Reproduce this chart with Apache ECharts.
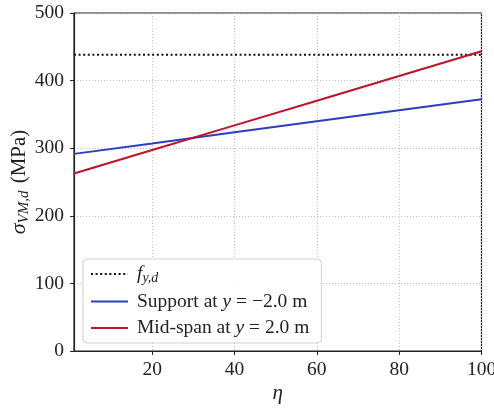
<!DOCTYPE html>
<html>
<head>
<meta charset="utf-8">
<script src="https://cdn.jsdelivr.net/npm/echarts@6/dist/echarts.min.js"></script>
<style>
  html, body { margin: 0; padding: 0; background: #fff; }
  #chart { width: 494px; height: 410px; }
</style>
</head>
<body>
<div id="chart"></div>
<script>
// Load factor eta and the von Mises design stress at two sections
const eta = [1, 20, 40, 60, 80, 100];
const supportStress = [291.6, 307.1, 323.5, 339.8, 356.2, 372.5];
const midspanStress = [262.6, 297.3, 333.8, 370.3, 406.8, 443.3];
const yieldStrength = 438.3;
const xTicks = [20, 40, 60, 80, 100];

const serif = 'Liberation Serif';
const tickFont = { fontFamily: serif, fontSize: 19.5, color: '#222' };
const gridLine = { show: true, lineStyle: { color: '#bdbdbd', type: [1, 2], width: 1 } };

const chart = echarts.init(document.getElementById('chart'));
chart.setOption({
  animation: false,
  backgroundColor: '#fff',
  grid: {
    left: 74, right: 12.5, top: 13, bottom: 59, outerBoundsMode: 'none', containLabel: false,
    show: true, borderColor: '#222', borderWidth: 1.2
  },
  xAxis: {
    type: 'value', min: 1, max: 100,
    name: 'η', nameLocation: 'middle', nameGap: 32, nameMoveOverlap: false,
    nameTextStyle: { fontFamily: serif, fontStyle: 'italic', fontSize: 21, color: '#222' },
    axisLine: { show: true, lineStyle: { color: '#222', width: 1.2 } },
    axisTick: { show: true, length: 4, customValues: xTicks, lineStyle: { color: '#222' } },
    axisLabel: Object.assign({ customValues: xTicks, margin: 9 }, tickFont),
    splitLine: gridLine
  },
  yAxis: {
    type: 'value', min: 0, max: 500, interval: 100,
    name: '{i|σ}{sub|VM,d} (MPa)', nameLocation: 'middle', nameGap: 42, nameRotate: 90,
    nameMoveOverlap: false,
    nameTextStyle: {
      fontFamily: serif, fontSize: 21, color: '#222',
      rich: {
        i: { fontFamily: serif, fontStyle: 'italic', fontSize: 22, color: '#222' },
        sub: { fontFamily: serif, fontStyle: 'italic', fontSize: 15, color: '#222', padding: [10, 2, 0, 0] }
      }
    },
    axisLine: { show: true, lineStyle: { color: '#222', width: 1.2 } },
    axisTick: { show: true, length: 4, lineStyle: { color: '#222' } },
    axisLabel: Object.assign({ margin: 10 }, tickFont),
    splitLine: gridLine
  },
  legend: {
    orient: 'vertical', left: 83, top: 259,
    padding: [5, 12, 5, 7], itemGap: 6.5, itemWidth: 37, itemHeight: 16,
    backgroundColor: 'rgba(255,255,255,0.9)', borderColor: '#d0d0d0', borderWidth: 1, borderRadius: 4,
    itemStyle: { opacity: 0 },
    textStyle: {
      fontFamily: serif, fontSize: 19.5, color: '#222', padding: [0, 0, 0, 4],
      rich: {
        i: { fontFamily: serif, fontStyle: 'italic', fontSize: 19.5, color: '#222' },
        sub: { fontFamily: serif, fontStyle: 'italic', fontSize: 14, color: '#222', padding: [8, 0, 0, 0] }
      }
    },
    formatter: function (name) {
      if (name === 'fyd') return '{i|f}{sub|y,d}';
      if (name === 'support') return 'Support at {i|y} = −2.0 m';
      return 'Mid-span at {i|y} = 2.0 m';
    },
    data: ['fyd', 'support', 'midspan']
  },
  series: [
    {
      name: 'fyd', type: 'line', symbol: 'none',
      data: [[1, yieldStrength], [100, yieldStrength]],
      lineStyle: { color: '#111', width: 2, type: [2, 2.6] },
      itemStyle: { color: '#111' }
    },
    {
      name: 'support', type: 'line', symbol: 'none',
      data: eta.map((e, i) => [e, supportStress[i]]),
      lineStyle: { color: '#2a40bf', width: 2 },
      itemStyle: { color: '#2a40bf' }
    },
    {
      name: 'midspan', type: 'line', symbol: 'none',
      data: eta.map((e, i) => [e, midspanStress[i]]),
      lineStyle: { color: '#c0122a', width: 2 },
      itemStyle: { color: '#c0122a' }
    }
  ]
});
</script>
</body>
</html>
